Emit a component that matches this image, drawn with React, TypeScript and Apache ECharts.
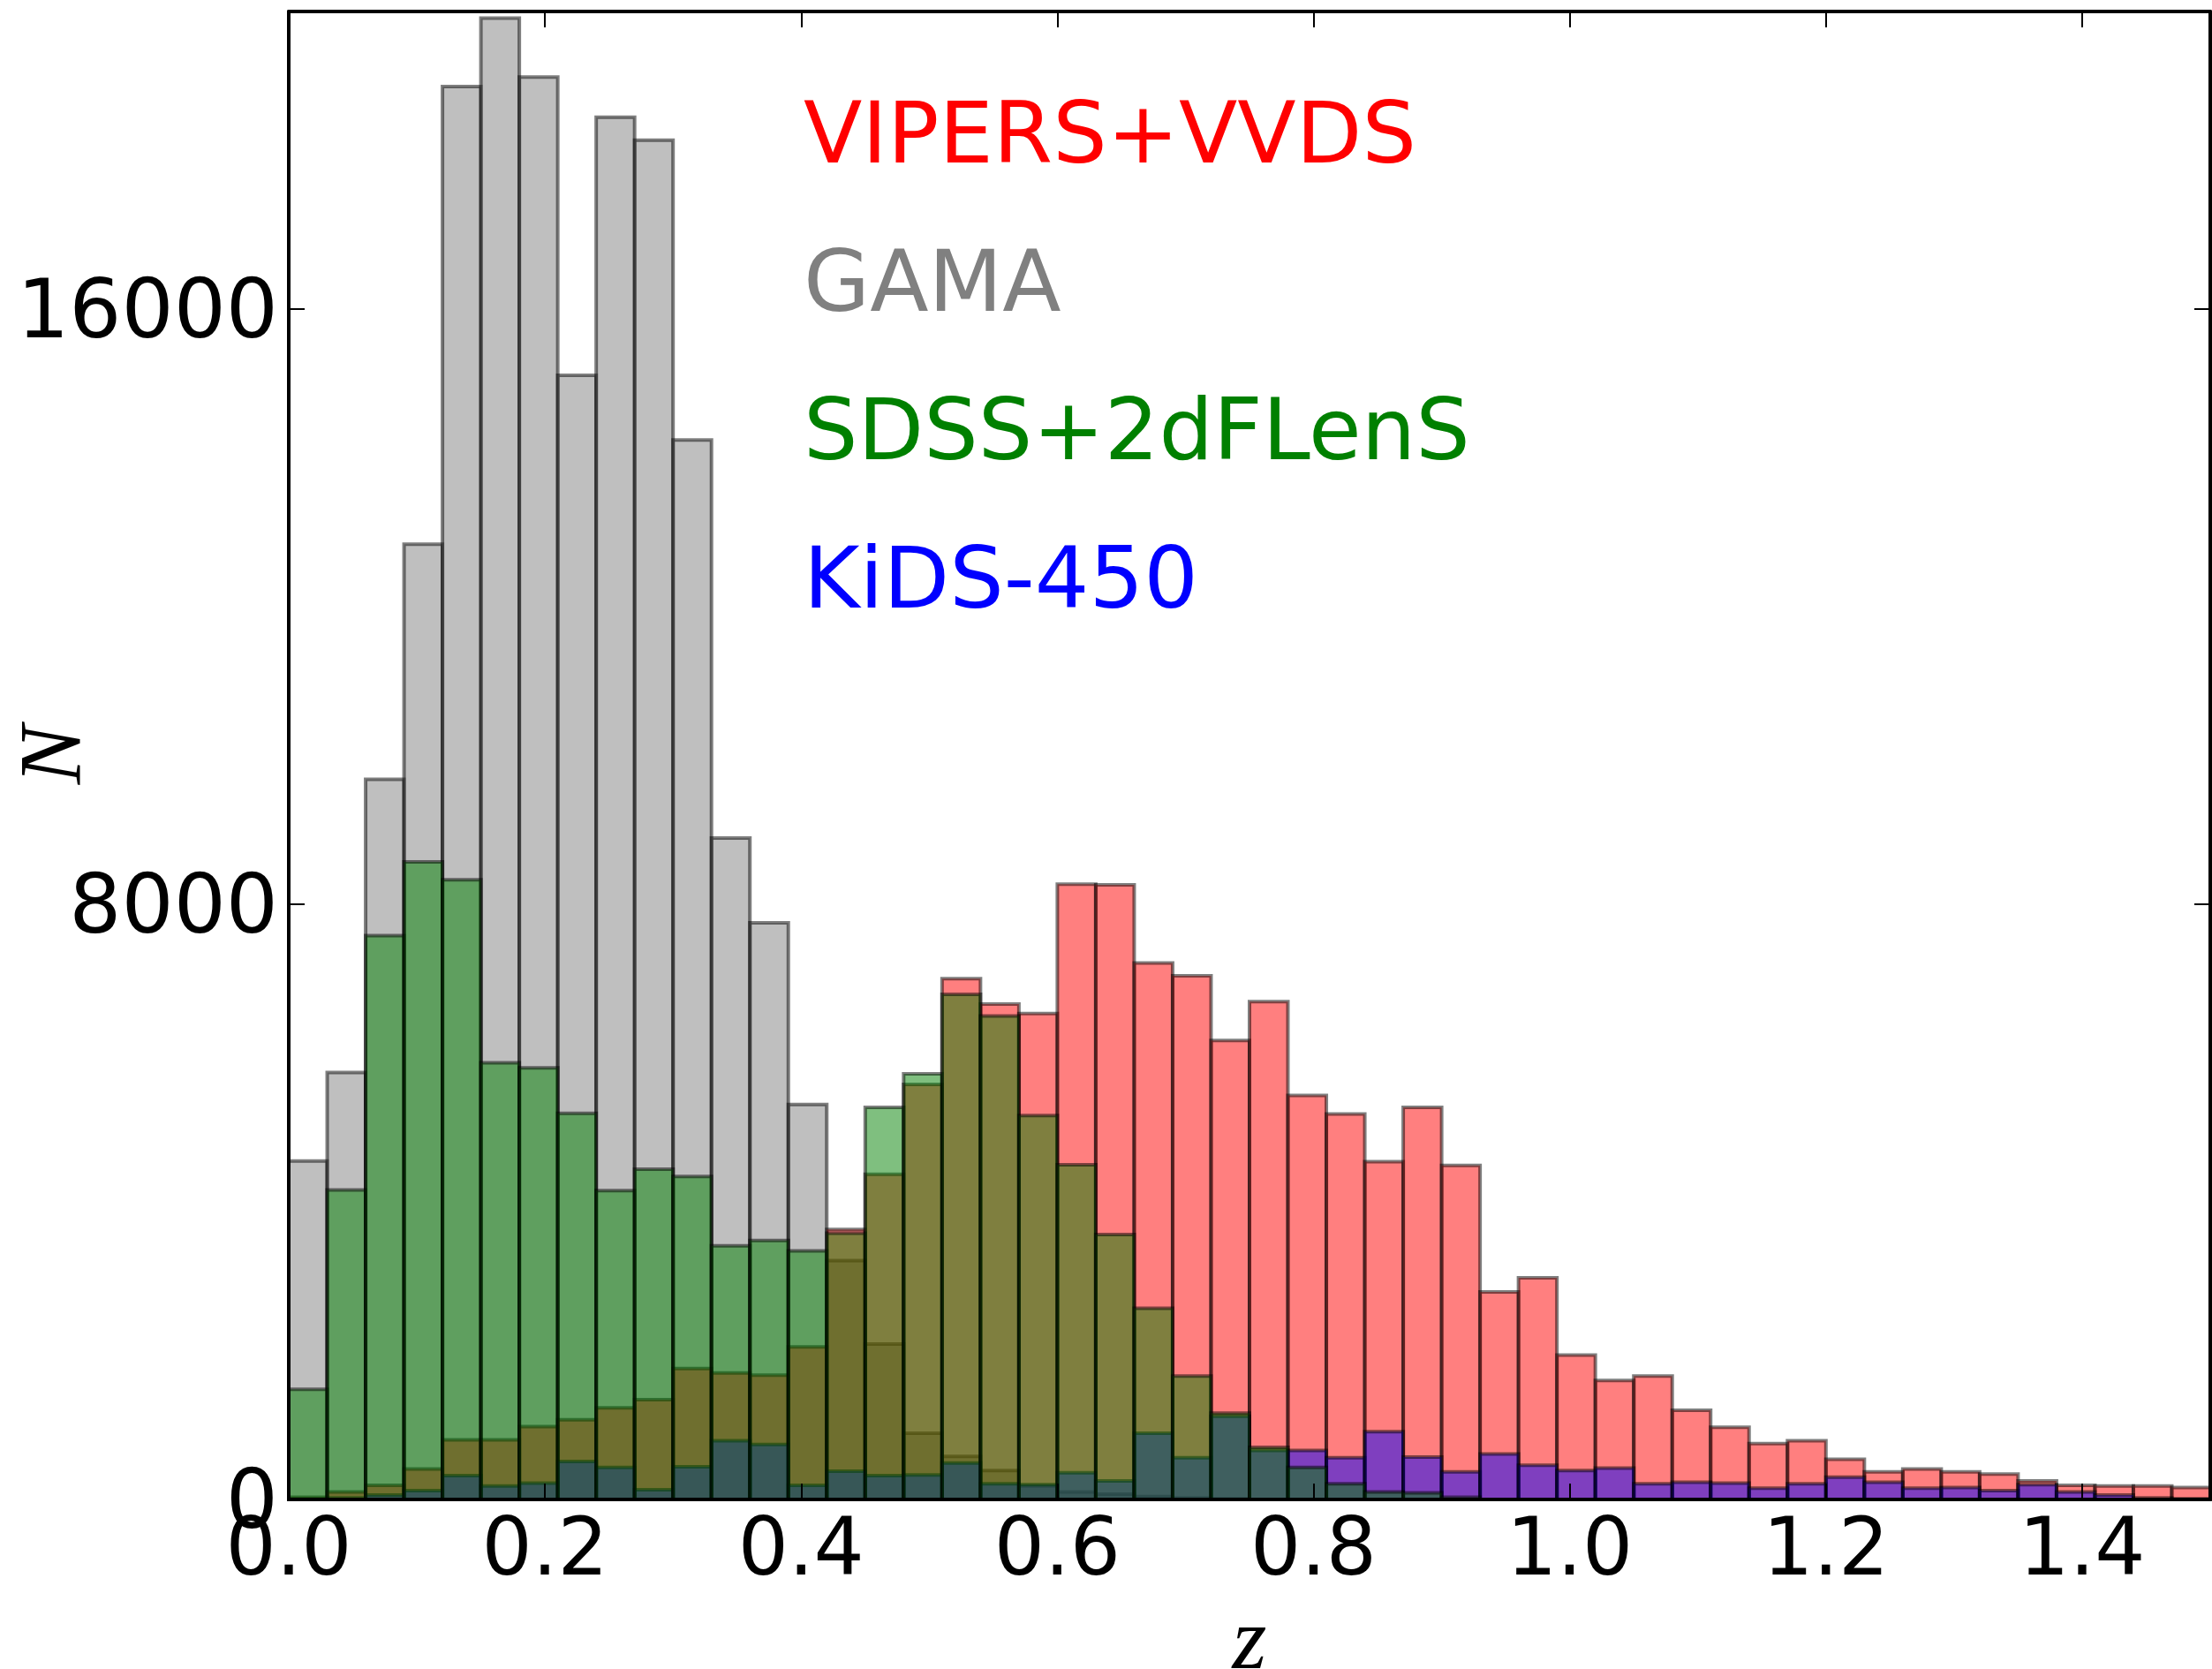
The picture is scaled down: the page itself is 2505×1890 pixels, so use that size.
import React, { useEffect, useRef } from "react";
import * as echarts from "echarts";

// Histogram bins: 50 bins of width 0.03 in z, from 0 to 1.5
const binWidth = 0.03;
const binCount = 50;

const xTicks = [0.0, 0.2, 0.4, 0.6, 0.8, 1.0, 1.2, 1.4];
const yTicks = [0, 8000, 16000];

const vipersVvds = [
  30, 100, 190, 410, 800, 800, 980, 1070, 1230, 1340,
  1760, 1700, 1670, 2050, 3630, 4370, 5580, 7000, 6660, 6530,
  8270, 8260, 7210, 7040, 6170, 6690, 5430, 5180, 4540, 5270,
  4490, 2790, 2980, 1940, 1600, 1660, 1200, 970, 750, 790,
  540, 370, 410, 370, 340, 250, 190, 180, 180, 160,
];

const gama = [
  4550, 5740, 9680, 12840, 18990, 19910, 19120, 15110, 18580, 18270,
  14240, 8890, 7750, 5310, 3210, 2090, 890, 580, 390, 180,
  100, 70, 40, 20, 10, 0, 0, 0, 0, 0,
  0, 0, 0, 0, 0, 0, 0, 0, 0, 0,
  0, 0, 0, 0, 0, 0, 0, 0, 0, 0,
];

const sdss2dflens = [
  1480, 4160, 7580, 8570, 8330, 5870, 5800, 5190, 4150, 4440,
  4340, 3410, 3480, 3340, 3580, 5270, 5720, 6790, 6500, 5160,
  4500, 3560, 2570, 1660, 1160, 700, 430, 210, 100, 90,
  30, 0, 0, 0, 0, 0, 0, 0, 0, 0,
  0, 0, 0, 0, 0, 0, 0, 0, 0, 0,
];

const kids450 = [
  10, 20, 60, 120, 320, 180, 220, 510, 430, 130,
  440, 790, 740, 190, 380, 320, 330, 490, 210, 200,
  360, 250, 890, 560, 1120, 660, 660, 560, 910, 570,
  370, 610, 460, 390, 420, 210, 230, 220, 150, 210,
  300, 230, 150, 160, 120, 200, 100, 60, 20, 10,
];

const legendLabels = ["VIPERS+VVDS", "GAMA", "SDSS+2dFLenS", "KiDS-450"];
const legendColors = ["#ff0000", "#808080", "#008000", "#0000ff"];

function toBins(counts: number[]) {
  return counts.slice(0, binCount).map((c, i) => [i * binWidth, (i + 1) * binWidth, c]);
}

function histSeries(name: string, counts: number[], fill: string) {
  return {
    type: "custom",
    name,
    silent: true,
    xAxisIndex: 0,
    yAxisIndex: 0,
    encode: { x: [0, 1], y: 2 },
    data: toBins(counts),
    renderItem: (params: any, api: any) => {
      const x0 = api.value(0);
      const x1 = api.value(1);
      const v = api.value(2);
      if (!v) return null;
      const p0 = api.coord([x0, 0]);
      const p1 = api.coord([x1, v]);
      return {
        type: "rect",
        shape: { x: p0[0], y: p1[1], width: p1[0] - p0[0], height: p0[1] - p1[1] },
        style: { fill, stroke: "rgba(0,0,0,0.5)", lineWidth: 4 },
      };
    },
  };
}

const FONT = "DejaVu Sans";

export default function App() {
  const ref = useRef<HTMLDivElement>(null);
  useEffect(() => {
    if (!ref.current) return;
    const chart = echarts.init(ref.current, undefined, { renderer: "svg" });
    const axisLine = { show: true, onZero: false, lineStyle: { color: "#000", width: 4 } };
    const axisTick = { show: true, inside: true, length: 18, lineStyle: { color: "#000", width: 2 } };
    const option: any = {
      animation: false,
      backgroundColor: "#ffffff",
      grid: { left: 327, right: 2, top: 13, bottom: 192, containLabel: false },
      xAxis: [
        {
          type: "value", min: 0, max: 1.5, interval: 0.2, position: "bottom", z: 10,
          axisLine, axisTick, splitLine: { show: false },
          axisLabel: {
            show: true, margin: 8, fontSize: 90, fontFamily: FONT, color: "#000",
            showMaxLabel: false,
            formatter: (v: number) => (xTicks.some((t) => Math.abs(t - v) < 1e-6) ? v.toFixed(1) : ""),
          },
        },
        {
          type: "value", min: 0, max: 1.5, interval: 0.2, position: "top", z: 10,
          axisLine, axisTick, splitLine: { show: false }, axisLabel: { show: false },
        },
      ],
      yAxis: [
        {
          type: "value", min: 0, max: 20000, interval: 8000, position: "left", z: 10,
          axisLine, axisTick, splitLine: { show: false },
          axisLabel: {
            show: true, margin: 12, fontSize: 93, fontFamily: FONT, color: "#000",
            showMaxLabel: false,
            formatter: (v: number) => (yTicks.includes(v) ? String(v) : ""),
          },
        },
        {
          type: "value", min: 0, max: 20000, interval: 8000, position: "right", z: 10,
          axisLine, axisTick, splitLine: { show: false }, axisLabel: { show: false },
        },
      ],
      series: [
        histSeries("GAMA", gama, "rgba(128,128,128,0.5)"),
        histSeries("VIPERS+VVDS", vipersVvds, "rgba(255,0,0,0.5)"),
        histSeries("KiDS-450", kids450, "rgba(0,0,255,0.5)"),
        histSeries("SDSS+2dFLenS", sdss2dflens, "rgba(0,128,0,0.5)"),
      ],
      graphic: [
        ...legendLabels.map((t, i) => ({
          type: "text",
          x: 910,
          y: 150 + i * 168.3,
          silent: true,
          style: {
            text: t, fill: legendColors[i], fontSize: 97, fontFamily: FONT,
            align: "left", verticalAlign: "middle",
          },
        })),
        {
          type: "text", x: 56, y: 855, rotation: Math.PI / 2, silent: true,
          style: {
            text: "N", fill: "#000", fontSize: 100, fontFamily: "Liberation Serif",
            fontStyle: "italic", align: "center", verticalAlign: "middle",
          },
        },
        {
          type: "text", x: 1415, y: 1855, silent: true,
          style: {
            text: "z", fill: "#000", fontSize: 100, lineHeight: 60, fontFamily: "Liberation Serif",
            fontStyle: "italic", align: "center", verticalAlign: "middle",
          },
        },
      ],
    };
    chart.setOption(option);
    return () => chart.dispose();
  }, []);
  return (
    <div
      ref={ref}
      style={{ position: "absolute", left: 0, top: 0, width: 2505, height: 1890, background: "#fff" }}
    />
  );
}
